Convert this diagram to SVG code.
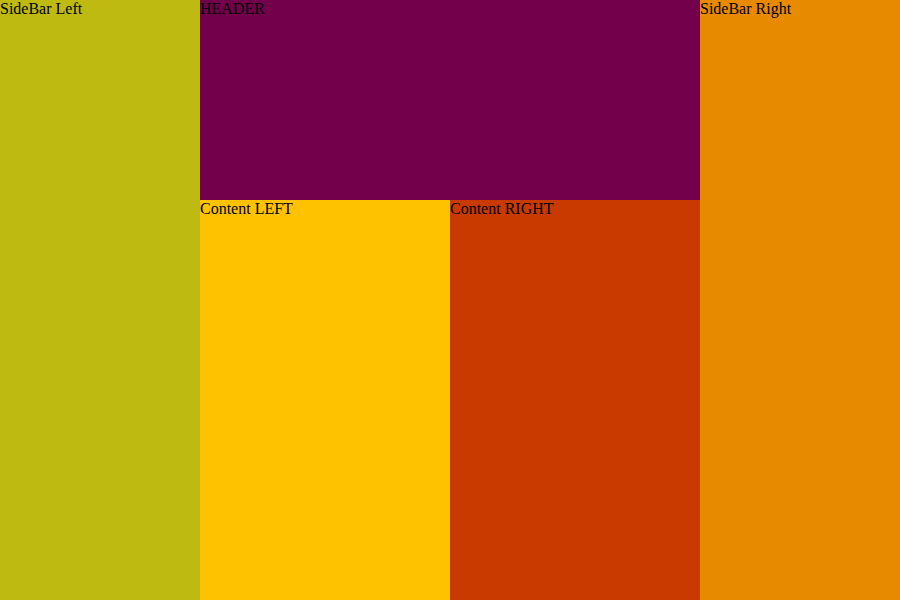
<svg xmlns="http://www.w3.org/2000/svg" width="900" height="600" viewBox="0 0 900 600">
<style>
text{font-family:"Liberation Serif","Times New Roman",serif;font-size:16px;fill:#000}
</style>
<g id="sidebar-left"><rect x="0" y="0" width="200" height="600" fill="#BFBA12"/><text x="0" y="14">SideBar Left</text></g>
<g id="header"><rect x="200" y="0" width="500" height="200" fill="#72004A"/><text x="200" y="14">HEADER</text></g>
<g id="content-left"><rect x="200" y="200" width="250" height="400" fill="#FFC200"/><text x="200" y="214">Content LEFT</text></g>
<g id="content-right"><rect x="450" y="200" width="250" height="400" fill="#C93A00"/><text x="450" y="214">Content RIGHT</text></g>
<g id="sidebar-right"><rect x="700" y="0" width="200" height="600" fill="#E88A00"/><text x="700" y="14">SideBar Right</text></g>
<g id="connectors"/>
</svg>
